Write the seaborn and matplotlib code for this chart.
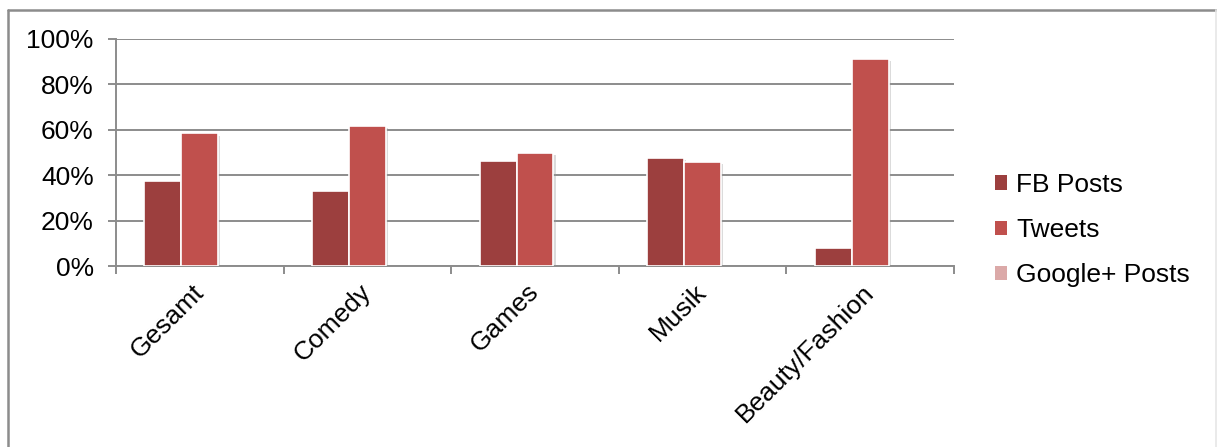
import matplotlib
matplotlib.use("Agg")
import matplotlib.pyplot as plt
import matplotlib.patheffects as pe
from matplotlib.patches import Patch
from matplotlib.lines import Line2D
from matplotlib.ticker import FixedLocator, PercentFormatter
import seaborn as sns
import pandas as pd

# Share of posts per platform, by channel category
categories = ["Gesamt", "Comedy", "Games", "Musik", "Beauty/Fashion"]
fb_posts = [0.376, 0.332, 0.462, 0.476, 0.078]
tweets = [0.584, 0.616, 0.499, 0.459, 0.913]
google_posts = [0.0, 0.0, 0.0, 0.0, 0.0]
series_names = ["FB Posts", "Tweets", "Google+ Posts"]
y_ticks = [0.0, 0.2, 0.4, 0.6, 0.8, 1.0]

colors = ["#9c3f3e", "#c0504d", "#dba9a8"]
FS = 19

df = pd.DataFrame({
    "Kategorie": categories * 3,
    "Serie": [series_names[0]] * 5 + [series_names[1]] * 5 + [series_names[2]] * 5,
    "Anteil": fb_posts + tweets + google_posts,
})

sns.set_theme(style="white")
plt.rcParams["font.family"] = ["Liberation Sans", "DejaVu Sans"]
plt.rcParams["text.color"] = "black"

W, H, DPI = 1217, 447, 100
fig = plt.figure(figsize=(W / DPI, H / DPI), dpi=DPI)
ax = fig.add_axes([116 / W, 1 - 266 / H, (954 - 116) / W, (266 - 39) / H])

sns.barplot(
    data=df, x="Kategorie", y="Anteil", hue="Serie",
    order=categories, hue_order=series_names, palette=colors, saturation=1,
    width=0.66, edgecolor="white", linewidth=1.2, legend=False,
    errorbar=None, ax=ax, zorder=3,
)

# soft drop shadow on visible bars; empty bars get no outline
for bar in ax.patches:
    if bar.get_height() > 0:
        bar.set_path_effects([
            pe.SimplePatchShadow(offset=(1.5, -1.5), shadow_rgbFace="#9a9a9a", alpha=0.35),
            pe.Normal(),
        ])
    else:
        bar.set_linewidth(0)

ax.set_ylim(0, 1)
ax.set_xlim(-0.5, len(categories) - 0.5)
ax.yaxis.set_major_locator(FixedLocator(y_ticks))
ax.yaxis.set_major_formatter(PercentFormatter(1.0, decimals=0))
ax.grid(axis="y", color="#8c8c8c", linewidth=1.4, zorder=0)
ax.set_axisbelow(True)
ax.set_xlabel("")
ax.set_ylabel("")

for side in ["top", "right"]:
    ax.spines[side].set_visible(False)
for side in ["left", "bottom"]:
    ax.spines[side].set_color("#8c8c8c")
    ax.spines[side].set_linewidth(1.4)

ax.tick_params(axis="y", direction="out", length=6, width=1.4, color="#8c8c8c",
               labelsize=FS, labelcolor="black", pad=10, left=True)
ax.set_xticks([i - 0.5 for i in range(len(categories) + 1)], minor=True)
ax.tick_params(axis="x", which="minor", direction="out", length=5.5, width=1.4,
               color="#8c8c8c", bottom=True)
ax.tick_params(axis="x", which="major", length=0, labelsize=FS,
               labelcolor="black", pad=16)
for lbl in ax.get_xticklabels():
    lbl.set_rotation(45)
    lbl.set_ha("right")
    lbl.set_va("center")
    lbl.set_rotation_mode("anchor")

handles = [Patch(facecolor=c, edgecolor="none") for c in colors]
fig.legend(
    handles, series_names, loc="center left",
    bbox_to_anchor=(995 / W, 1 - 230 / H), bbox_transform=fig.transFigure,
    frameon=False, fontsize=FS, handlelength=0.45, handleheight=0.45,
    handletextpad=0.35, labelspacing=0.8, borderaxespad=0, borderpad=0,
    labelcolor="black",
)

# chart frame
fig.add_artist(Line2D([8 / W, 8 / W], [0, 1 - 9.5 / H], transform=fig.transFigure,
                      color="#8c8c8c", linewidth=1.8))
fig.add_artist(Line2D([8 / W, 1216 / W], [1 - 9.5 / H, 1 - 9.5 / H],
                      transform=fig.transFigure, color="#8c8c8c", linewidth=1.8))
fig.add_artist(Line2D([1216 / W, 1216 / W], [0, 1 - 9.5 / H], transform=fig.transFigure,
                      color="#e6e6e6", linewidth=1.2))

fig.savefig("out.png", dpi=DPI)
